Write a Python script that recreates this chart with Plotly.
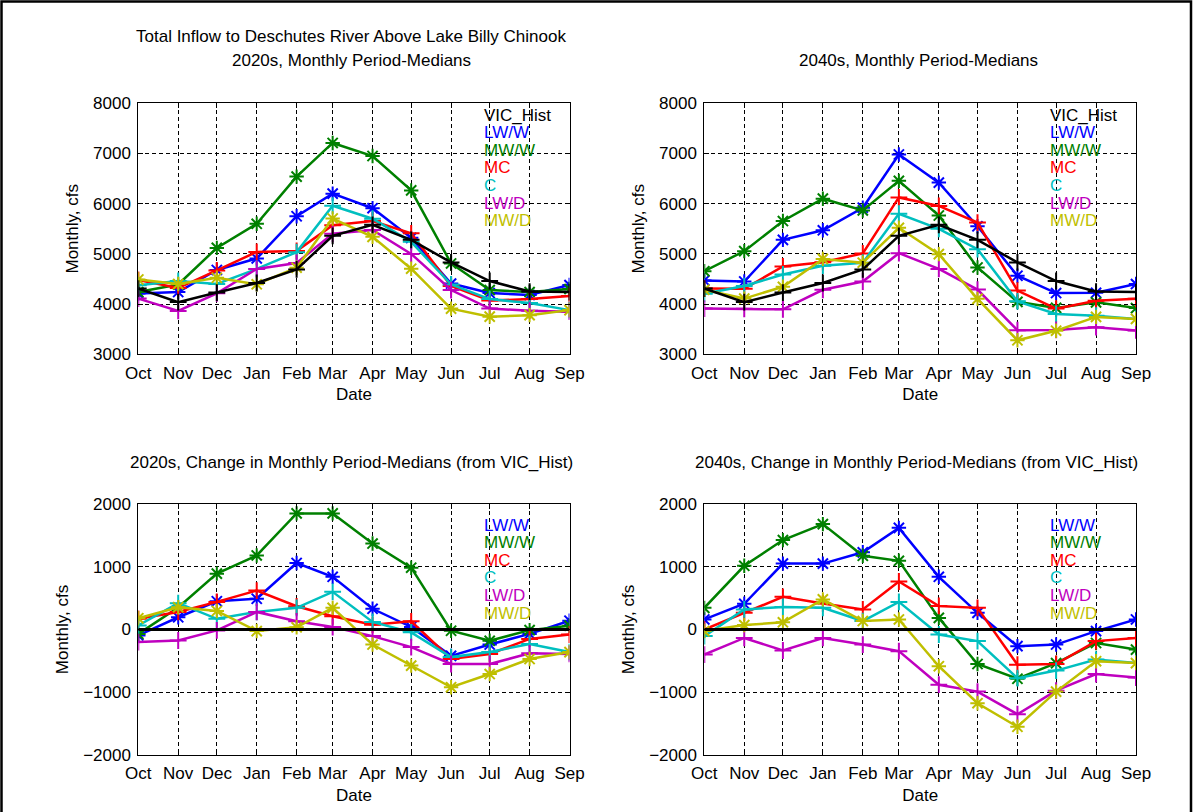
import plotly.graph_objects as go

# Month labels and the first-of-month dates they sit on (water year Oct-Sep)
months = ["Oct", "Nov", "Dec", "Jan", "Feb", "Mar", "Apr", "May", "Jun", "Jul", "Aug", "Sep"]
month_dates = ["2000-10-01", "2000-11-01", "2000-12-01", "2001-01-01", "2001-02-01", "2001-03-01",
               "2001-04-01", "2001-05-01", "2001-06-01", "2001-07-01", "2001-08-01", "2001-09-01"]

scenarios = ["LW/W", "MW/W", "MC", "C", "LW/D", "MW/D"]
scenario_colors = ["#0000FF", "#008000", "#FF0000", "#00BFBF", "#BF00BF", "#BFBF00"]
scenario_symbols = ["asterisk", "asterisk", "cross-thin", "cross-thin", "cross-thin", "asterisk"]

# Historical simulation, monthly period-medians (cfs)
vic_hist = [4310, 4040, 4230, 4420, 4690, 5360, 5580, 5280, 4830, 4460, 4250, 4240]

# 2020s monthly period-medians (cfs)
med_2020_lww = [4210, 4240, 4680, 4910, 5750, 6200, 5910, 5320, 4410, 4220, 4180, 4380]
med_2020_mww = [4240, 4390, 5120, 5600, 6540, 7210, 6950, 6265, 4810, 4280, 4240, 4300]
med_2020_mc = [4480, 4320, 4670, 5040, 5060, 5570, 5655, 5410, 4360, 4070, 4100, 4160]
med_2020_c = [4375, 4460, 4400, 4700, 5035, 5960, 5700, 5240, 4390, 4100, 4020, 3880]
med_2020_lwd = [4110, 3865, 4215, 4700, 4820, 5400, 5475, 5000, 4280, 3910, 3870, 3850]
med_2020_mwd = [4490, 4400, 4525, 4395, 4725, 5705, 5340, 4705, 3910, 3750, 3780, 3880]

# 2040s monthly period-medians (cfs)
med_2040_lww = [4470, 4450, 5280, 5470, 5920, 6980, 6420, 5550, 4565, 4220, 4225, 4400]
med_2040_mww = [4655, 5055, 5655, 6100, 5865, 6455, 5765, 4730, 4045, 3925, 4035, 3920]
med_2040_mc = [4310, 4305, 4750, 4835, 5010, 6125, 5955, 5625, 4270, 3910, 4065, 4105]
med_2040_c = [4205, 4360, 4590, 4765, 4825, 5800, 5500, 5095, 4055, 3805, 3770, 3705]
med_2040_lwd = [3910, 3905, 3895, 4285, 4450, 5015, 4700, 4290, 3480, 3485, 3540, 3475]
med_2040_mwd = [4285, 4110, 4345, 4900, 4825, 5520, 4995, 4105, 3280, 3470, 3745, 3705]

# Change from VIC_Hist, 2020s (cfs)
chg_2020_lww = [-95, 195, 450, 490, 1060, 840, 330, 40, -420, -240, -70, 140]
chg_2020_mww = [-70, 350, 890, 1180, 1850, 1850, 1370, 985, -20, -180, -10, 60]
chg_2020_mc = [170, 280, 440, 620, 370, 210, 75, 130, -470, -390, -150, -80]
chg_2020_c = [65, 420, 170, 280, 345, 600, 120, -45, -440, -360, -230, -360]
chg_2020_lwd = [-200, -175, -15, 280, 130, 40, -105, -280, -550, -550, -380, -390]
chg_2020_mwd = [180, 355, 295, -25, 35, 345, -240, -575, -920, -710, -470, -360]

# Change from VIC_Hist, 2040s (cfs)
chg_2040_lww = [160, 410, 1050, 1050, 1230, 1620, 840, 265, -265, -240, -25, 160]
chg_2040_mww = [345, 1015, 1425, 1680, 1175, 1095, 185, -550, -785, -535, -215, -320]
chg_2040_mc = [0, 265, 520, 415, 320, 765, 375, 345, -560, -550, -185, -135]
chg_2040_c = [-105, 320, 360, 345, 135, 440, -80, -185, -775, -655, -480, -535]
chg_2040_lwd = [-400, -135, -335, -135, -240, -345, -880, -990, -1350, -975, -710, -765]
chg_2040_mwd = [-25, 70, 115, 480, 135, 160, -585, -1175, -1550, -990, -505, -535]

# VIC_Hist relative to itself: the zero reference in the change panels
chg_vic_hist = [0, 0, 0, 0, 0, 0, 0, 0, 0, 0, 0, 0]

panels = [
    ("x", "y", [med_2020_lww, med_2020_mww, med_2020_mc, med_2020_c, med_2020_lwd, med_2020_mwd], vic_hist),
    ("x2", "y2", [med_2040_lww, med_2040_mww, med_2040_mc, med_2040_c, med_2040_lwd, med_2040_mwd], vic_hist),
    ("x3", "y3", [chg_2020_lww, chg_2020_mww, chg_2020_mc, chg_2020_c, chg_2020_lwd, chg_2020_mwd], chg_vic_hist),
    ("x4", "y4", [chg_2040_lww, chg_2040_mww, chg_2040_mc, chg_2040_c, chg_2040_lwd, chg_2040_mwd], chg_vic_hist),
]

W, H = 1194, 812
FONT = "Liberation Sans, Arial, Helvetica, sans-serif"
FS = 17

fig = go.Figure()

for xa, ya, series, hist in panels:
    is_change = xa in ("x3", "x4")
    for name, vals, col, sym in zip(scenarios, series, scenario_colors, scenario_symbols):
        fig.add_trace(go.Scatter(
            x=month_dates, y=vals, name=name, xaxis=xa, yaxis=ya,
            mode="lines+markers", showlegend=False,
            line=dict(color=col, width=2.5),
            marker=dict(symbol=sym, size=12, color=col, line=dict(color=col, width=2)),
        ))
    fig.add_trace(go.Scatter(
        x=month_dates, y=hist, name="VIC_Hist", xaxis=xa, yaxis=ya,
        mode="lines" if is_change else "lines+markers", showlegend=False,
        line=dict(color="black", width=3 if is_change else 2.5),
        marker=dict(symbol="cross-thin", size=12, color="black", line=dict(color="black", width=2)),
    ))

# Axes geometry in pixels: left/right columns and top/bottom rows
cols = [(138.3, 569.5), (704.3, 1136.0)]
rows = [(103.3, 354.3), (504.0, 755.0)]

def xdom(c):
    return [cols[c][0] / W, cols[c][1] / W]

def ydom(r):
    return [1 - rows[r][1] / H, 1 - rows[r][0] / H]

axis_common = dict(
    showline=True, linecolor="black", linewidth=1, mirror="allticks",
    ticks="inside", ticklen=5, tickcolor="black", tickwidth=1,
    showgrid=True, gridcolor="black", gridwidth=1, griddash="4px,3px",
    zeroline=False, automargin=False,
    tickfont=dict(family=FONT, size=FS, color="black"),
)

layout_axes = {}
for i, (c, r) in enumerate([(0, 0), (1, 0), (0, 1), (1, 1)]):
    sx = "" if i == 0 else str(i + 1)
    layout_axes["xaxis" + sx] = dict(
        axis_common, domain=xdom(c), anchor="y" + sx, type="date",
        range=[month_dates[0], month_dates[-1]],
        tickvals=month_dates, ticktext=months, ticklabelstandoff=3,
        title=dict(text="Date", font=dict(family=FONT, size=FS, color="black"), standoff=6),
    )
    if r == 0:
        yrng, ytv = [3000, 8000], [3000, 4000, 5000, 6000, 7000, 8000]
    else:
        yrng, ytv = [-2000, 2000], [-2000, -1000, 0, 1000, 2000]
    layout_axes["yaxis" + sx] = dict(
        axis_common, domain=ydom(r), anchor="x" + sx, range=yrng, tickvals=ytv,
        ticklabelstandoff=3,
        title=dict(text="Monthly, cfs", font=dict(family=FONT, size=FS, color="black"), standoff=10),
    )

annotations = []

def add_text(text, x_px, y_px, color="black", xanchor="center"):
    annotations.append(dict(
        text=text, x=x_px / W, y=1 - y_px / H, xref="paper", yref="paper",
        xanchor=xanchor, yanchor="middle", showarrow=False,
        font=dict(family=FONT, size=FS, color=color),
    ))

# Panel titles
add_text("Total Inflow to Deschutes River Above Lake Billy Chinook", 351, 37)
add_text("2020s, Monthly Period-Medians", 351, 60)
add_text("2040s, Monthly Period-Medians", 918, 60)
add_text("2020s, Change in Monthly Period-Medians (from VIC_Hist)", 351, 462)
add_text("2040s, Change in Monthly Period-Medians (from VIC_Hist)", 916, 462)

# Text-only legends
step = 17.6
for lx in (481.5, 1047.5):
    add_text("VIC_Hist", lx, 115, "black", "left")
    for k, (name, col) in enumerate(zip(scenarios, scenario_colors)):
        add_text(name, lx, 115 + step * (k + 1), col, "left")
    for k, (name, col) in enumerate(zip(scenarios, scenario_colors)):
        add_text(name, lx, 525 + step * k, col, "left")

fig.update_layout(
    width=W, height=H,
    margin=dict(l=0, r=0, t=0, b=0, autoexpand=False),
    paper_bgcolor="white", plot_bgcolor="white",
    showlegend=False, annotations=annotations,
    shapes=[dict(type="rect", xref="paper", yref="paper",
                 x0=1.5 / W, x1=1191 / W, y0=-0.05, y1=1 - 1.5 / H,
                 line=dict(color="black", width=2.5), layer="above")],
    **layout_axes,
)

fig.write_html("out.html")
